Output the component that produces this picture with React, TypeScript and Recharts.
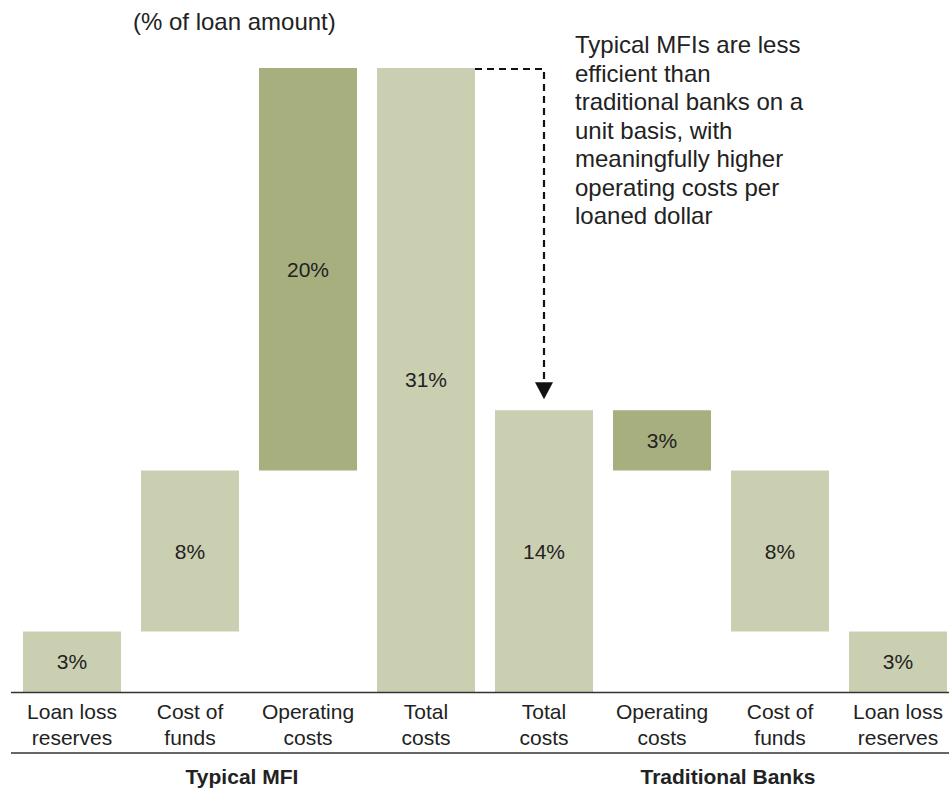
import { BarChart, Bar, XAxis, YAxis, Cell, LabelList } from 'recharts';

// waterfall: invisible base + visible step
const categories = ['mfi-llr', 'mfi-cof', 'mfi-op', 'mfi-total', 'tb-total', 'tb-op', 'tb-cof', 'tb-llr'];
const tickLabels = [
  ['Loan loss', 'reserves'],
  ['Cost of', 'funds'],
  ['Operating', 'costs'],
  ['Total', 'costs'],
  ['Total', 'costs'],
  ['Operating', 'costs'],
  ['Cost of', 'funds'],
  ['Loan loss', 'reserves'],
];
const baseValues = [0, 3, 11, 0, 0, 11, 3, 0];
const stepValues = [3, 8, 20, 31, 14, 3, 8, 3];
const darkBars = [false, false, true, false, false, true, false, false];
const groupLabels = ['Typical MFI', 'Traditional Banks'];
const noteLines = [
  'Typical MFIs are less',
  'efficient than',
  'traditional banks on a',
  'unit basis, with',
  'meaningfully higher',
  'operating costs per',
  'loaned dollar',
];

const W = 949;
const H = 788;
const M = { top: 68, right: -8, left: 13, bottom: 0 };
const AXIS_H = 96;
const Y_MAX = 31;
const BAR = 98;
const LIGHT = '#cbcfb1';
const DARK = '#a7af7e';
const FONT = '"Liberation Sans", Arial, Helvetica, sans-serif';

const data = categories.map((key, i) => ({
  key,
  base: baseValues[i],
  step: stepValues[i],
}));

// same mapping as the chart, for the annotation overlay
const plotBottom = H - AXIS_H;
const plotH = plotBottom - M.top;
const band = (W - M.left - M.right) / categories.length;
const yOf = (v: number) => plotBottom - (v / Y_MAX) * plotH;
const xOf = (i: number) => M.left + band * (i + 0.5);

function CategoryTick(props: any) {
  const { x, y, payload } = props;
  const idx = categories.indexOf(payload.value);
  const lines = tickLabels[idx] || [];
  return (
    <g>
      {lines.map((t, j) => (
        <text key={j} x={x} y={y + 27 + j * 26} textAnchor="middle" fill="#222" fontSize={21} fontFamily={FONT}>
          {t}
        </text>
      ))}
    </g>
  );
}

export default function App() {
  const from = xOf(3) + BAR / 2;
  const ax = xOf(4);
  const top = yOf(stepValues[3]);
  const tip = yOf(stepValues[4]) - 11;
  return (
    <div style={{ position: 'relative', width: W, height: H, fontFamily: FONT, overflow: 'hidden' }}>
      <style>{'body{margin:0}'}</style>
      <BarChart width={W} height={H} data={data} margin={M} barSize={BAR}>
        <YAxis hide domain={[0, Y_MAX]} />
        <XAxis
          dataKey="key"
          height={AXIS_H}
          tickLine={false}
          tickSize={0}
          tickMargin={0}
          axisLine={false}
          tick={<CategoryTick />}
          interval={0}
        />
        <Bar dataKey="base" stackId="w" fill="transparent" isAnimationActive={false} />
        <Bar dataKey="step" stackId="w" isAnimationActive={false}>
          {data.map((d, i) => (
            <Cell key={d.key} fill={darkBars[i] ? DARK : LIGHT} />
          ))}
          <LabelList
            dataKey="step"
            position="center"
            formatter={(v: any) => `${v}%`}
            style={{ fill: '#222', fontSize: 21, fontFamily: FONT }}
          />
        </Bar>
      </BarChart>
      <svg width={W} height={H} style={{ position: 'absolute', left: 0, top: 0, pointerEvents: 'none' }}>
        <line x1={11} x2={W} y1={plotBottom + 0.5} y2={plotBottom + 0.5} stroke="#333" strokeWidth={1.5} />
        <line x1={11} x2={W} y1={753} y2={753} stroke="#333" strokeWidth={1.5} />
        <text x={242} y={784} textAnchor="middle" fontSize={21} fontWeight="bold" fill="#222" fontFamily={FONT}>
          {groupLabels[0]}
        </text>
        <text x={728} y={784} textAnchor="middle" fontSize={21} fontWeight="bold" fill="#222" fontFamily={FONT}>
          {groupLabels[1]}
        </text>
        <text x={133} y={30} fontSize={24} fill="#222" fontFamily={FONT}>
          (% of loan amount)
        </text>
        {noteLines.map((t, i) => (
          <text key={i} x={575} y={53 + i * 28.5} fontSize={24} fill="#222" fontFamily={FONT}>
            {t}
          </text>
        ))}
        <path
          d={`M${from},${top + 1} H${ax} V${tip - 16}`}
          fill="none"
          stroke="#111"
          strokeWidth={2.2}
          strokeDasharray="7 5"
        />
        <polygon points={`${ax - 9},${tip - 17} ${ax + 9},${tip - 17} ${ax},${tip}`} fill="#111" />
      </svg>
    </div>
  );
}
